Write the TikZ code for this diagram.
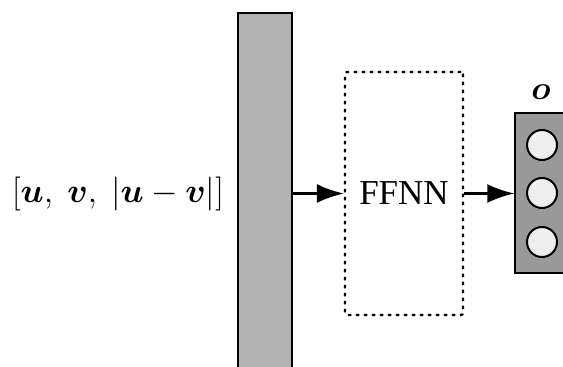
\RequirePackage{fix-cm}
\documentclass[tikz,border=0pt]{standalone}
\usepackage{bm}
\usepackage{fontspec}
\setmainfont{Liberation Serif}
\usetikzlibrary{arrows.meta}
\definecolor{barfill}{HTML}{B3B3B3}
\definecolor{outfill}{HTML}{999999}
\definecolor{cellfill}{HTML}{EEEEEE}
\tikzset{
  barbox/.style={draw=black, line width=2.2pt, fill=barfill, minimum width=54pt, minimum height=361pt, inner sep=0pt},
  ffbox/.style={draw=black, line width=2.2pt, dash pattern=on 3.5pt off 4.5pt, rounded corners=2pt, minimum width=118pt, minimum height=243pt, inner sep=0pt, font=\fontsize{35}{40}\selectfont},
  outbox/.style={draw=black, line width=1.4pt, fill=outfill, minimum width=66pt, minimum height=160pt, inner sep=0pt},
  cell/.style={circle, draw=black, line width=2pt, fill=cellfill, minimum size=30pt, inner sep=0pt},
  arr/.style={line width=2.6pt, -{Latex[length=27pt,width=19pt]}},
}
\begin{document}
\begin{tikzpicture}[x=1pt,y=-1pt]
\useasboundingbox (0,0) rectangle (563,367);
\clip (0,0) rectangle (563,367);
\node[barbox] (bar) at (265,193.5) {};
\node[ffbox] (ffnn) at (404,193.5) {FFNN};
\node[outbox] (out) at (548,193) {};
\node[cell] (c1) at (542,145) {};
\node[cell] (c2) at (542,193) {};
\node[cell] (c3) at (542,242) {};
\node[font=\fontsize{33}{40}\selectfont] (olab) at (541,92) {$\bm{o}$};
\node[font=\fontsize{34}{40}\selectfont] (inp) at (118,193.5) {$[\bm{u},\ \bm{v},\ |\bm{u}-\bm{v}|]$};
\draw[arr] (bar.east) -- (ffnn.west);
\draw[arr] (ffnn.east) -- (ffnn.east -| out.west);
\end{tikzpicture}
\end{document}
